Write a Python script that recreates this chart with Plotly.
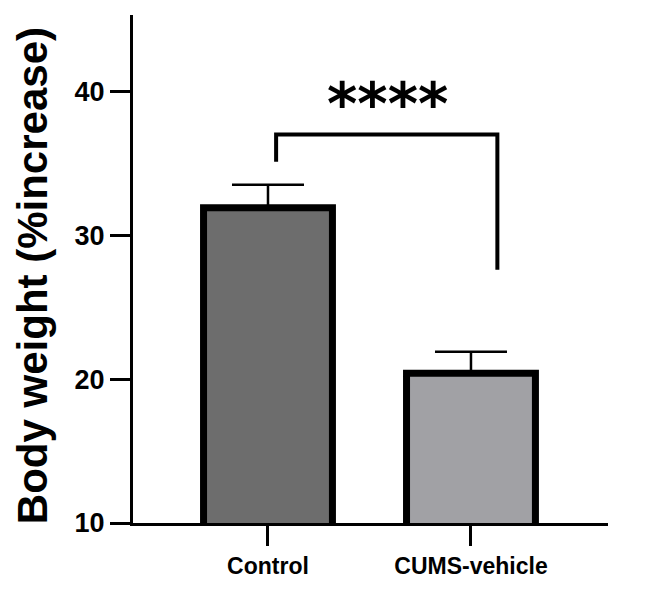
import plotly.graph_objects as go

# data
groups = ["Control", "CUMS-vehicle"]
means = [31.9, 20.4]
sem = [1.6, 1.5]
bar_colors = ["#6d6d6d", "#a1a1a5"]

# significance bracket (x in category units, y in % increase)
bracket_x = [0.04, 0.04, 1.13, 1.13]
bracket_y = [35.1, 37.0, 37.0, 27.6]
sig_label = "****"

fig = go.Figure()

fig.add_trace(go.Bar(
    x=[0, 1], y=means, width=0.635,
    marker=dict(color=bar_colors, line=dict(color="black", width=7)),
    error_y=dict(type="data", array=sem, arrayminus=[0, 0], symmetric=False,
                 color="black", thickness=2.5, width=36),
    showlegend=False,
))

fig.add_trace(go.Scatter(
    x=bracket_x, y=bracket_y, mode="lines",
    line=dict(color="black", width=4), showlegend=False, hoverinfo="skip",
))

fig.add_annotation(x=0.59, y=39.1, xref="x", yref="y", text="<b>" + sig_label + "</b>",
                   showarrow=False, font=dict(family="DejaVu Sans", size=58, color="black"),
                   xanchor="center", yanchor="middle")

# y title as rotated annotation so it sits where the original does
fig.add_annotation(x=-0.2126, y=0.486, xref="paper", yref="paper",
                   text="<b>Body weight (%increase)</b>", textangle=-90, showarrow=False,
                   xanchor="center", yanchor="middle",
                   font=dict(family="Liberation Sans, Arial", size=42, color="black"))

fig.update_xaxes(range=[-0.665, 1.675], tickvals=[0, 1], ticktext=groups,
                 showline=True, linecolor="black", linewidth=3,
                 ticks="outside", ticklen=20, tickwidth=3, tickcolor="black",
                 showgrid=False, zeroline=False,
                 tickfont=dict(family="Liberation Sans, Arial", size=23, color="black", weight="bold"))
fig.update_yaxes(range=[10, 45.3], tickvals=[10, 20, 30, 40],
                 showline=True, linecolor="black", linewidth=3,
                 ticks="outside", ticklen=20, tickwidth=3, tickcolor="black",
                 showgrid=False, zeroline=False,
                 tickfont=dict(family="Liberation Sans, Arial", size=27, color="black", weight="bold"))

fig.update_layout(width=658, height=589, margin=dict(l=125, r=58, t=7, b=74),
                  plot_bgcolor="white", paper_bgcolor="white")

fig.write_html("out.html")
